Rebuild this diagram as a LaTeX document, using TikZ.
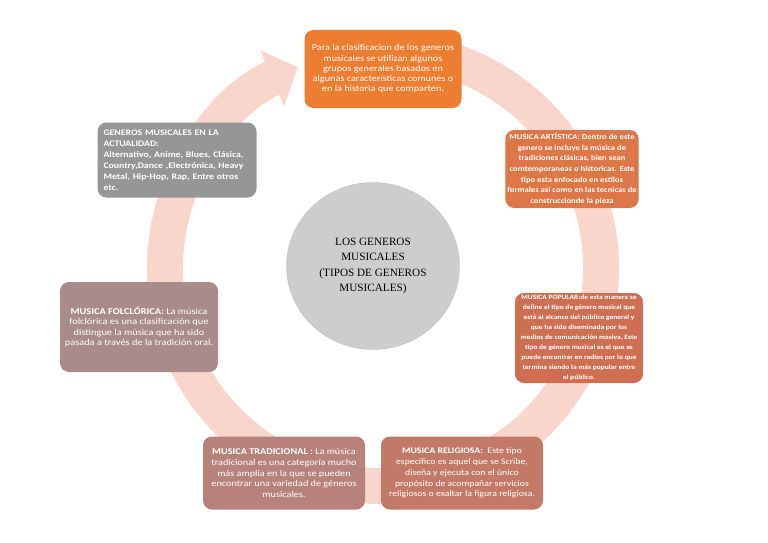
\documentclass[tikz,border=0pt]{standalone}
\usepackage{fontspec}
\setmainfont[FakeStretch=1.15]{Carlito}
\newfontfamily\seriftxt{Liberation Serif}
\usetikzlibrary{arrows.meta, shapes.geometric}

\definecolor{rosa}{RGB}{248,214,204}
\definecolor{naranja}{RGB}{237,125,49}
\definecolor{artis}{RGB}{221,119,71}
\definecolor{popu}{RGB}{206,111,84}
\definecolor{relig}{RGB}{195,121,104}
\definecolor{tradi}{RGB}{183,129,124}
\definecolor{folclo}{RGB}{168,139,138}
\definecolor{actual}{RGB}{150,150,150}
\definecolor{centrogris}{RGB}{205,205,205}

\begin{document}
\begin{tikzpicture}[x=1pt,y=-1pt,
  caja/.style={rounded corners=9pt, align=center, text=white, inner sep=2pt},
  anillo/.style={line width=36pt, draw=rosa},
  letra/.style={font=\fontsize{8.7}{10.7}\selectfont}]

\useasboundingbox (0,0) rectangle (768,543);

%% ================= anillo con flecha ======================================
\draw[anillo, -{Triangle[width=60pt, length=28pt]}]
  ([shift={(-80:218)}]383,268) arc[start angle=-80, end angle=247, radius=218];

%% ================= centro ==================================================
\node[ellipse, fill=centrogris, draw=black!25, minimum width=173pt,
  minimum height=167pt, align=center,
  font=\seriftxt\fontsize{11.2}{14.5}\selectfont] (centro) at (373,266)
  {LOS GENEROS\\MUSICALES\\[2pt](TIPOS DE GENEROS\\MUSICALES)};

%% ================= cajas ===================================================
\node[caja, fill=naranja, minimum width=157pt, minimum height=78pt,
  font=\fontsize{8.9}{10.2}\selectfont] (clasif) at (383,69)
  {Para la clasificacion de los generos\\musicales se utilizan algunos\\
   grupos generales basados en\\algunas características comunes o\\
   en la historia que comparten.};

\node[caja, fill=artis, minimum width=130pt, minimum height=78pt,
  font=\fontsize{7.5}{10.6}\selectfont\bfseries] (artistica) at (572,169)
  {MUSICA ARTÍSTICA: Dentro de este\\genero se incluye la música de\\
   tradiciones clásicas, bien sean\\comtemporaneas o historicas. Este\\
   tipo esta enfocado en estilos\\formales asi como en las tecnicas de\\
   construccionde la pieza};

\node[caja, fill=popu, minimum width=128pt, minimum height=90pt,
  font=\fontsize{6.5}{10}\selectfont\bfseries] (popular) at (579,338)
  {MUSICA POPULAR:de esta manera se\\define el tipo de género musical que\\
   está al alcance del público general y\\que ha sido diseminada por los\\
   medios de comunicación masiva, Este\\tipo de género musical es el que se\\
   puede encontrar en radios por lo que\\termina siendo la más popular entre\\
   el público.};

\node[caja, letra, fill=relig, minimum width=162pt, minimum height=73pt,
  font=\fontsize{8.5}{10.8}\selectfont] (religiosa) at (462,473)
  {\textbf{MUSICA RELIGIOSA:}\ \ Este tipo\\específico es aquel que se Scribe,\\
   diseña y ejecuta con el único\\propósito de acompañar servicios\\
   religiosos o exaltar la figura religiosa.};

\node[caja, letra, fill=tradi, minimum width=162pt, minimum height=73pt,
  font=\fontsize{8.9}{10.8}\selectfont] (tradicional) at (284,473)
  {\textbf{MUSICA TRADICIONAL :} La música\\tradicional es una categoría mucho\\
   más amplia en la que se pueden\\encontrar una variedad de géneros\\
   musicales.};

\node[caja, letra, fill=folclo, minimum width=158pt, minimum height=90pt,
  font=\fontsize{9}{10.5}\selectfont] (folclorica) at (139,327)
  {\textbf{MUSICA FOLCLÓRICA:} La música\\folclórica es una clasificación que\\
   distingue la música que ha sido\\pasada a través de la tradición oral.};

\node[caja, fill=actual, minimum width=159pt, minimum height=75pt,
  align=left, text width=147pt,
  font=\fontsize{8.5}{11}\selectfont\bfseries] (actualidad) at (177,160)
  {GENEROS MUSICALES EN LA\\ACTUALIDAD:\\Alternativo, Anime, Blues, Clásica,\\
   Country,Dance ,Electrónica, Heavy\\Metal, Hip-Hop, Rap, Entre otros\\etc.};
\end{tikzpicture}
\end{document}
